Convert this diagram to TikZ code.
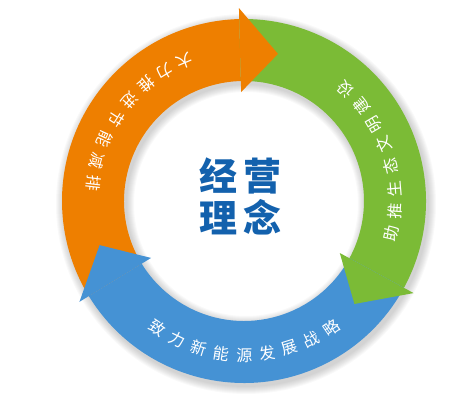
\documentclass[tikz,border=0pt]{standalone}
\usepackage{fontspec}
\newfontfamily\cjk{Noto Sans CJK SC}
\definecolor{ora}{HTML}{EE7F00}
\definecolor{gre}{HTML}{7BBB36}
\definecolor{blu}{HTML}{4592D4}
\definecolor{ttl}{HTML}{1361AD}
\tikzset{
  arctxt/.style={font=\cjk\fontsize{16}{16}\selectfont, text=white, inner sep=0pt},
  titletxt/.style={font=\cjk\bfseries\fontsize{38}{38}\selectfont, text=ttl, inner sep=0pt}
}
\begin{document}
\begin{tikzpicture}[x=1pt,y=1pt]
\useasboundingbox (-244,-202) rectangle (228,201);
% soft shadow
\foreach \i in {1,...,8}{
  \fill[black,opacity=0.022,even odd rule,shift={(2pt,-3pt)}]
    (0,0) circle[radius=182pt+\i pt] (0,0) circle[radius=120pt-\i pt];
}
% bodies
\foreach \c/\s/\b in {ora/211.5/91.5, gre/91.5/-28.5, blu/-28.5/-148.5}{
  \fill[\c] (\s:120pt) arc[start angle=\s,end angle=\b,radius=120pt]
    -- (\b:182pt) arc[start angle=\b,end angle=\s,radius=182pt] -- cycle;
}
% heads
\foreach \c/\b in {ora/91.5, gre/-28.5, blu/211.5}{
  \fill[\c] (\b:109pt) -- ({\b-14.5}:151pt) -- (\b:193pt) -- cycle;
}
% arc texts
\foreach [count=\k from 0] \ch in {大,力,推,进,节,能,减,排}{
  \pgfmathsetmacro\a{112.9+8.6*\k}
  \node[arctxt, rotate=\a+90] (o\k) at (\a:152pt) {\ch};
}
\foreach [count=\k from 0] \ch in {助,推,生,态,文,明,建,设}{
  \pgfmathsetmacro\a{-12.55+8.6*\k}
  \node[arctxt, rotate=\a+90] (g\k) at (\a:151pt) {\ch};
}
\foreach [count=\k from 0] \ch in {致,力,新,能,源,发,展,战,略}{
  \pgfmathsetmacro\a{235.75+8.6*\k}
  \node[arctxt, rotate=\a+90] (b\k) at (\a:154pt) {\ch};
}
% title
\node[titletxt] (t1) at (-3pt,25pt) {经\hspace{6pt}营};
\node[titletxt] (t2) at (-3pt,-16pt) {理\hspace{6pt}念};
\end{tikzpicture}
\end{document}
